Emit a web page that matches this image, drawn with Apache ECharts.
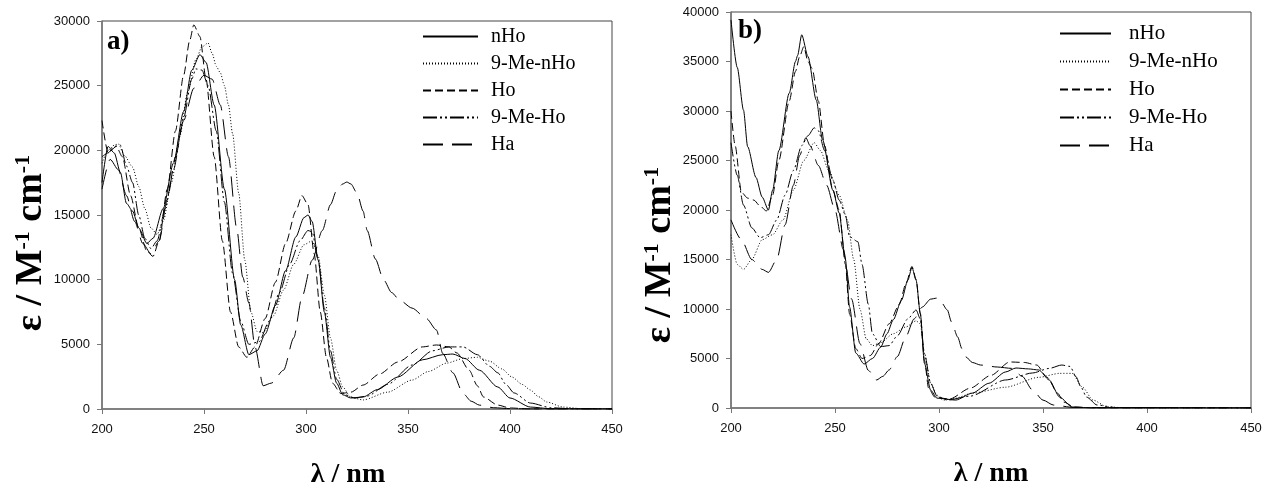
<!DOCTYPE html>
<html>
<head>
<meta charset="utf-8">
<script src="https://cdn.jsdelivr.net/npm/echarts@6/dist/echarts.min.js"></script>
<style>
  html, body { margin: 0; padding: 0; background: #fff; }
  #chart { width: 1273px; height: 488px; }
</style>
</head>
<body>
<div id="chart"></div>
<script>
// legend names
const names = ["nHo", "9-Me-nHo", "Ho", "9-Me-Ho", "Ha"];
// axis ticks
const xTicks = { min: 200, max: 450, step: 50 };
const yTicksA = { min: 0, max: 30000, step: 5000 };
const yTicksB = { min: 0, max: 40000, step: 5000 };

// panel a) [wavelength nm, epsilon]
const nHoA = [[200,17500],[203,20300],[206,19800],[209,18300],[212,15900],[215,15300],[218,14000],[222,12800],[225,13200],[230,15500],[235,19000],[240,23000],[244,26200],[248,27400],[251,26800],[255,23500],[260,17000],[265,10000],[268,6500],[272,4200],[276,4500],[280,5800],[285,8000],[290,10700],[295,13300],[299,14800],[301,15000],[303,14500],[306,11500],[309,7500],[312,4000],[315,2000],[318,1100],[322,850],[328,930],[335,1500],[345,2470],[357,3800],[367,4200],[372,4250],[378,3900],[385,3000],[394,1700],[400,850],[410,150],[420,20],[450,0]];
const meNHoA = [[200,19000],[203,20000],[206,20400],[208,20500],[211,19600],[215,18700],[218,17200],[221,15500],[224,14000],[227,13500],[230,14500],[234,17500],[238,21000],[242,24500],[246,27000],[249,28000],[252,28300],[254,27500],[256,26500],[258,26000],[260,25000],[262,23500],[264,21300],[267,16700],[270,11500],[273,7500],[276,6000],[279,5900],[284,7200],[289,9200],[294,11200],[299,12700],[303,13000],[306,11800],[309,8800],[312,5500],[315,3000],[318,1700],[322,900],[328,700],[340,1300],[352,2240],[360,2900],[369,3550],[377,3900],[384,4000],[390,3700],[396,3100],[401,2470],[406,1900],[410,1470],[414,950],[418,540],[426,150],[435,30],[450,0]];
const hoA = [[200,22300],[203,19800],[207,20300],[210,19500],[214,16500],[218,14000],[222,12200],[225,11800],[228,13000],[232,17000],[236,21500],[240,25800],[243,28500],[245,29700],[248,28800],[251,25500],[255,19500],[259,13000],[263,7500],[267,4800],[271,4000],[275,4800],[280,7000],[285,9800],[290,12800],[295,15300],[298,16500],[301,15800],[304,12000],[307,7500],[310,4000],[313,2000],[317,1200],[322,1300],[328,1850],[336,2700],[345,3630],[357,4800],[364,4950],[370,4800],[374,4330],[380,3000],[384,1800],[387,930],[394,300],[400,80],[410,0],[450,0]];
const meHoA = [[200,19500],[203,19800],[206,20300],[209,20400],[212,18800],[215,17500],[218,15000],[221,13200],[224,12400],[227,13000],[231,15500],[235,18500],[240,22500],[244,25500],[246,26300],[249,26200],[252,25000],[256,21500],[260,16000],[264,10500],[268,6800],[272,5000],[277,5200],[282,6800],[287,9000],[292,11200],[297,13000],[301,13800],[303,13700],[306,11500],[309,7800],[312,4500],[315,2300],[319,1100],[324,850],[330,1000],[340,1900],[352,3400],[362,4500],[370,4800],[377,4800],[384,4200],[390,3300],[394,2800],[398,1900],[402,1240],[410,460],[420,100],[430,20],[450,0]];
const haA = [[200,17000],[204,19300],[208,18500],[212,16500],[216,14500],[220,12800],[224,12000],[228,13000],[232,16200],[236,19500],[240,22300],[245,24800],[250,25800],[254,25500],[258,23500],[262,19500],[266,14000],[269,10200],[272,8200],[275,4800],[279,1800],[283,2000],[289,3000],[294,5500],[298,8650],[303,11500],[308,13800],[312,15800],[315,16900],[318,17400],[320,17550],[322,17400],[325,16700],[328,15300],[330,13800],[334,11600],[338,10000],[342,9000],[346,8400],[352,7800],[359,7000],[364,6100],[367,4300],[372,2800],[377,1200],[381,600],[385,300],[392,100],[400,30],[410,0],[450,0]];

// panel b) [wavelength nm, epsilon]
const nHoB = [[200,39200],[203,34400],[206,30100],[208,26400],[212,23300],[215,21300],[218,20000],[220,22000],[223,26000],[228,31800],[231,35000],[232,35600],[234,37700],[237,35500],[241,31100],[244,27100],[249,22000],[252,19700],[255,15000],[257,10200],[260,5550],[264,4440],[268,5000],[272,6160],[275,7500],[278,8900],[282,10900],[285,12900],[287,14200],[289,12900],[291,9600],[293,4500],[296,1800],[299,1000],[308,800],[316,1500],[324,2500],[332,3640],[337,4040],[343,3950],[348,3840],[353,2830],[358,1100],[364,100],[375,0],[450,0]];
const meNHoB = [[200,17500],[203,14500],[206,14000],[210,15000],[215,17000],[220,17500],[225,19000],[230,22000],[235,25000],[240,26800],[243,26000],[247,24000],[252,21500],[256,19000],[259,15000],[262,10000],[265,7000],[268,6300],[272,6600],[278,7500],[284,8180],[289,8800],[291,8500],[293,5500],[296,2500],[299,1300],[302,800],[308,1000],[316,1500],[332,2100],[348,3100],[358,3500],[364,3500],[369,2100],[374,800],[381,100],[390,20],[450,0]];
const hoB = [[200,30000],[202,26500],[205,21800],[208,21200],[211,21000],[214,20400],[217,19900],[220,21500],[223,25000],[228,31000],[231,34000],[233,35500],[235,36500],[237,35000],[239,34300],[242,31000],[245,26500],[249,22000],[252,20000],[255,14500],[257,9500],[260,6000],[263,5000],[267,5300],[271,6500],[276,8500],[281,10500],[284,12500],[287,14300],[289,13000],[291,9500],[293,4800],[295,2000],[298,1100],[305,900],[315,2000],[325,3300],[334,4650],[341,4600],[347,4340],[352,3100],[357,1500],[360,600],[365,100],[375,0],[450,0]];
const meHoB = [[200,26800],[203,23500],[206,20500],[210,18200],[214,17200],[218,17500],[222,19000],[226,21500],[230,24000],[234,26500],[237,27500],[240,28300],[242,28000],[245,26000],[249,23000],[252,21000],[255,19500],[257,17300],[261,16800],[263,14500],[266,10500],[268,7500],[272,6200],[276,6300],[280,7300],[285,9000],[289,9900],[291,9000],[293,5500],[296,2500],[299,1200],[304,800],[315,1200],[332,2830],[345,3540],[353,4000],[359,4340],[363,4200],[366,3130],[368,2200],[371,1100],[376,300],[385,50],[450,0]];
const haB = [[200,19000],[205,17000],[210,15000],[215,14000],[218,13700],[222,15000],[226,18500],[230,22500],[233,25500],[236,27300],[238,26500],[242,24500],[246,22500],[250,20000],[254,16000],[258,11000],[262,6500],[266,3800],[270,2830],[273,3200],[276,3840],[280,5200],[284,7170],[288,9000],[292,10200],[296,11000],[299,11100],[301,10700],[304,9900],[306,8700],[309,7170],[311,6000],[313,5150],[316,4600],[320,4340],[328,4140],[335,4000],[340,3200],[345,1800],[350,800],[355,300],[365,50],[450,0]];

const dashes = {
  "nHo": "solid",
  "9-Me-nHo": [1, 2],
  "Ho": [8, 4],
  "9-Me-Ho": [14, 3, 2, 3, 2, 3],
  "Ha": [20, 9]
};

const chart = echarts.init(document.getElementById("chart"));

function xAxisOf(grid, shift) {
  return {
    type: "value", gridIndex: grid,
    min: xTicks.min, max: xTicks.max, interval: xTicks.step,
    name: "λ / nm", nameLocation: "middle", nameGap: 52,
    nameTextStyle: { fontFamily: "Liberation Serif", fontWeight: "bold", fontSize: 28, color: "#000", padding: [0, shift, 0, 0] },
    axisLine: { lineStyle: { color: "#777", width: 1.5 } },
    axisTick: { inside: false, length: 5, lineStyle: { color: "#777" } },
    axisLabel: { margin: 14, fontFamily: "Liberation Sans", fontSize: 13, color: "#111", formatter: v => String(v) },
    splitLine: { show: false }
  };
}
function yAxisOf(grid, t, shift, gap) {
  return {
    type: "value", gridIndex: grid,
    min: t.min, max: t.max, interval: t.step,
    name: "{a|ε / M}{s|-1}{a| cm}{s|-1}", nameLocation: "middle", nameGap: gap, nameRotate: 90,
    nameTextStyle: {
      padding: [0, shift, 0, 0],
      rich: {
        a: { fontFamily: "Liberation Serif", fontWeight: "bold", fontSize: 38, color: "#000" },
        s: { fontFamily: "Liberation Serif", fontWeight: "bold", fontSize: 22, color: "#000", verticalAlign: "top", padding: [0, 0, 15, 0] }
      }
    },
    axisLine: { show: true, lineStyle: { color: "#777", width: 1.5 } },
    axisTick: { show: true, inside: false, length: 5, lineStyle: { color: "#777" } },
    axisLabel: { margin: 12, fontFamily: "Liberation Sans", fontSize: 13, color: "#111", formatter: v => String(v) },
    splitLine: { show: false }
  };
}
function seriesOf(name, data, idx) {
  return {
    name: name, type: "line", xAxisIndex: idx, yAxisIndex: idx,
    data: data, symbol: "none", smooth: 0.25, smoothMonotone: "x",
    lineStyle: { color: "#000", width: 1, type: dashes[name] },
    itemStyle: { color: "#000" },
    silent: true, animation: false
  };
}
function legendOf(left, top, w, pad, size, gap) {
  return {
    data: names, orient: "vertical", left: left, top: top, padding: 0,
    itemWidth: w, itemHeight: 14, itemGap: gap,
    itemStyle: { opacity: 0 },
    textStyle: { fontFamily: "Liberation Serif", fontSize: size, color: "#000", lineHeight: 23, padding: [0, 0, 0, pad] },
    selectedMode: false
  };
}

const option = {
  backgroundColor: "#fff",
  animation: false,
  grid: [
    { left: 102, top: 21, right: 661, bottom: 79, show: true, borderColor: "#444", borderWidth: 1, outerBoundsMode: "none" },
    { left: 731, top: 12, right: 22, bottom: 80, show: true, borderColor: "#444", borderWidth: 1, outerBoundsMode: "none" }
  ],
  xAxis: [xAxisOf(0, 18), xAxisOf(1, 0)],
  yAxis: [yAxisOf(0, yTicksA, 56, 49), yAxisOf(1, yTicksB, 90, 51)],
  legend: [legendOf(422, 25, 55, 8, 20, 4), legendOf(1059, 22, 51, 13, 21, 5)],
  graphic: [
    { type: "text", left: 107, top: 29, style: { text: "a)", font: "bold 27px 'Liberation Serif'", fill: "#000" } },
    { type: "text", left: 738, top: 18, style: { text: "b)", font: "bold 27px 'Liberation Serif'", fill: "#000" } }
  ],
  series: [
    seriesOf("nHo", nHoA, 0),
    seriesOf("9-Me-nHo", meNHoA, 0),
    seriesOf("Ho", hoA, 0),
    seriesOf("9-Me-Ho", meHoA, 0),
    seriesOf("Ha", haA, 0),
    seriesOf("nHo", nHoB, 1),
    seriesOf("9-Me-nHo", meNHoB, 1),
    seriesOf("Ho", hoB, 1),
    seriesOf("9-Me-Ho", meHoB, 1),
    seriesOf("Ha", haB, 1)
  ]
};
chart.setOption(option);
</script>
</body>
</html>
